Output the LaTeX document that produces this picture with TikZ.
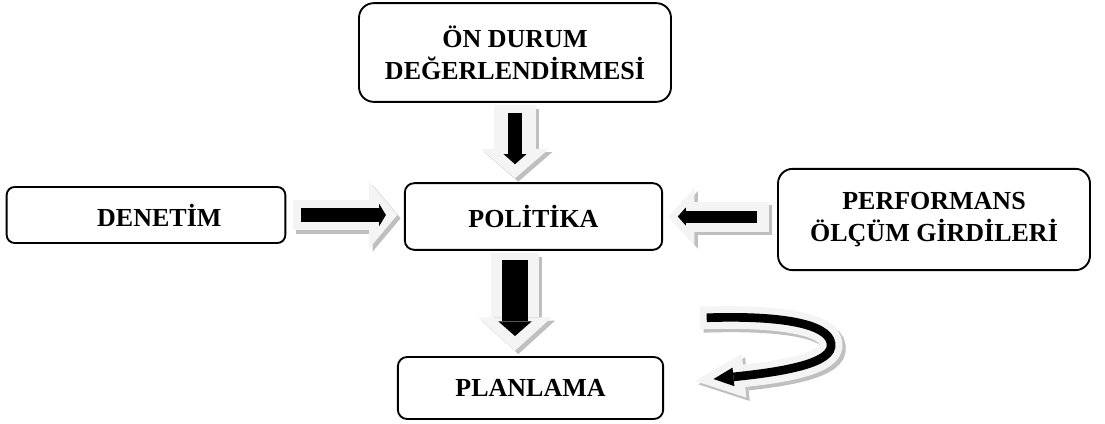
\documentclass[tikz,border=0pt]{standalone}
\usepackage{fontspec}
\setmainfont{Liberation Serif}
\usetikzlibrary{arrows.meta}

\colorlet{arrowlight}{gray!9}
\colorlet{arrowshade}{gray!50}

\tikzset{
  stage/.style={draw, line width=1.4pt, rounded corners=7pt, align=center,
    font=\fontsize{19.5}{24}\selectfont\bfseries},
  fat/.style args={#1/#2/#3}{line width=#1,
    -{Triangle[length=#2,width=#3,line width=0pt]}},
}

% shadow, light body and black core of one block arrow
\newcommand{\blockarrow}[4]{%
  \draw[#1, draw=arrowshade, transform canvas={shift={(2.5pt,-2.5pt)}}] #3 -- #4;
  \draw[#1, draw=arrowlight] #3 -- #4;
  \draw[#2, draw=black] #3 -- #4;}

\begin{document}
\begin{tikzpicture}[x=0.75pt,y=-0.75pt]
	\useasboundingbox (0,0) rectangle (1105,424);

	\node (ondurum) [stage, rounded corners=11pt, minimum width=234pt, minimum height=74pt] at (515,52.5) {ÖN DURUM\\DEĞERLENDİRMESİ};
	\node (denetim) [stage, rounded corners=6pt, minimum width=209pt, minimum height=42pt] at (146,215) {\hspace*{20pt}DENETİM};
	\node (politika) [stage, minimum width=193pt, minimum height=50pt] at (533.5,216.5) {POLİTİKA};
	\node (performans) [stage, rounded corners=11pt, minimum width=234pt, minimum height=76pt] at (934,219.5) {PERFORMANS\\ÖLÇÜM GİRDİLERİ};
	\node (planlama) [stage, minimum width=199pt, minimum height=46.5pt] at (530.5,388) {PLANLAMA};

	% into politika
	\blockarrow{fat=31pt/22pt/51pt, shorten <=2pt, shorten >=3pt}
		{fat=11pt/7.5pt/17pt, shorten <=8pt, shorten >=13.5pt}
		{(ondurum.south)}{(ondurum.south |- politika.north)}
	\blockarrow{fat=23pt/21pt/50pt, shorten <=5pt, shorten >=5pt}
		{fat=10pt/5pt/16.5pt, shorten <=11pt, shorten >=13.5pt}
		{(denetim.east)}{(politika.west |- denetim.east)}
	\blockarrow{fat=22.5pt/19.5pt/43pt, shorten <=6pt, shorten >=4pt}
		{fat=9pt/6pt/13.5pt, shorten <=15pt, shorten >=11pt}
		{(performans.west |- politika.east)}{(politika.east)}

	% politika to planlama
	\blockarrow{fat=36pt/25pt/55pt, shorten <=2pt, shorten >=4pt}
		{fat=19pt/11pt/25pt, shorten <=7pt, shorten >=15pt}
		{(politika.south -| ondurum.south)}{(planlama.north -| ondurum.south)}

	% turning arrow beside planlama
	\coordinate (loopstart) at (700,318);
	\coordinate (loopend) at (695,381);
	\draw[fat=17pt/37pt/33pt, draw=arrowshade, transform canvas={shift={(2.5pt,-2.5pt)}}]
		(loopstart) .. controls (790,315) and (834,326) .. (831,347) .. controls (828,366) and (770,373) .. (loopend);
	\draw[fat=17pt/37pt/33pt, draw=arrowlight]
		(loopstart) .. controls (790,315) and (834,326) .. (831,347) .. controls (828,366) and (770,373) .. (loopend);
	\draw[fat=6.5pt/15pt/14pt, draw=black, shorten <=5pt, shorten >=14pt]
		(loopstart) .. controls (790,315) and (834,326) .. (831,347) .. controls (828,366) and (770,373) .. (loopend);
\end{tikzpicture}
\end{document}
